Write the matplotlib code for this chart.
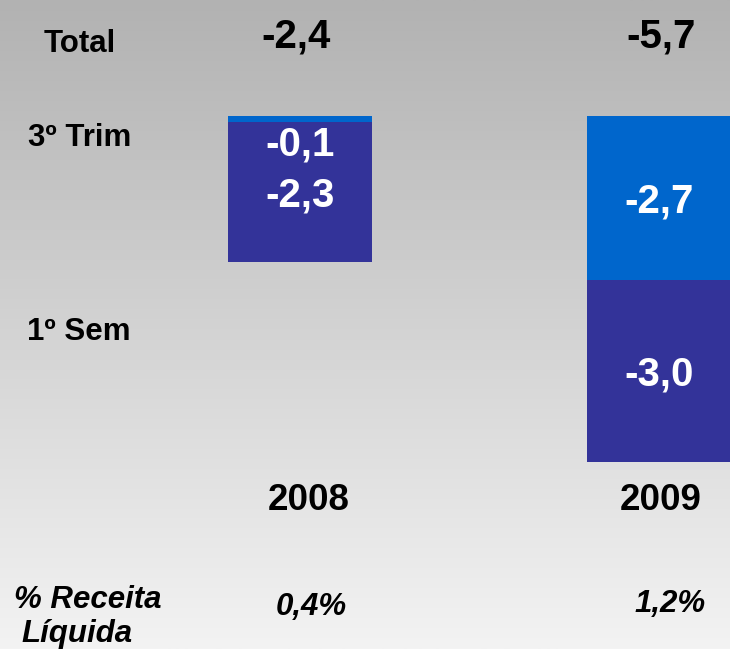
import numpy as np
import matplotlib.pyplot as plt
from matplotlib.colors import LinearSegmentedColormap
from matplotlib.transforms import blended_transform_factory

# data
years = ["2008", "2009"]
trim3 = [-0.1, -2.7]      # 3º Trim (segmento de cima)
sem1 = [-2.3, -3.0]       # 1º Sem (segmento de baixo)
totals = ["-2,4", "-5,7"]
trim3_lbl = ["-0,1", "-2,7"]
sem1_lbl = ["-2,3", "-3,0"]
pct_receita = ["0,4%", "1,2%"]

C_TRIM = "#0066CC"
C_SEM = "#333399"
FONT = "Liberation Sans"

W, H = 730, 649
fig = plt.figure(figsize=(W / 100, H / 100), dpi=100)
ax = fig.add_axes([0, 0, 1, 1])

# escala: zero a 116 px do topo, ~60.7 px por unidade
px_unit = 60.7
y_top = 116 / px_unit
y_bot = -(H - 116) / px_unit
x = np.arange(len(years))
xl = (-0.837, 1.199)
ax.set_xlim(*xl)
ax.set_ylim(y_bot, y_top)

# fundo degradê cinza
grad = np.linspace(0, 1, 256).reshape(-1, 1)
cmap = LinearSegmentedColormap.from_list("bg", ["#b2b2b2", "#f3f3f3"])
ax.imshow(grad, cmap=cmap, aspect="auto", extent=[xl[0], xl[1], y_bot, y_top],
          origin="upper", zorder=0)

ax.bar(x, trim3, width=0.40, bottom=0, color=C_TRIM, zorder=2)
ax.bar(x, sem1, width=0.40, bottom=trim3, color=C_SEM, zorder=2)
ax.axis("off")

lab = dict(fontfamily=FONT, fontweight="bold", color="white", fontsize=29,
           ha="center", va="center_baseline", zorder=3)
for i in range(len(years)):
    if abs(trim3[i]) < 0.5:
        # segmento fino: rótulo logo abaixo do topo da barra
        ax.annotate(trim3_lbl[i], (x[i], 0), xytext=(0, -18), textcoords="offset points", **lab)
    else:
        ax.text(x[i], trim3[i] / 2, trim3_lbl[i], **lab)
    ax.text(x[i], trim3[i] + sem1[i] / 2, sem1_lbl[i], **lab)

def fy(py):
    return 1 - py / H

blend = blended_transform_factory(ax.transData, fig.transFigure)
tot_dx = [-0.011, 0.007]
year_dx = [0.025, 0.007]
pct_base = [615, 612]
for i in range(len(years)):
    ax.text(x[i] + tot_dx[i], fy(48), totals[i], transform=blend, fontfamily=FONT,
            fontweight="bold", fontsize=29, ha="center", va="baseline")
    ax.text(x[i] + year_dx[i], fy(510), years[i], transform=blend, fontfamily=FONT,
            fontweight="bold", fontsize=26.5, ha="center", va="baseline")
    ax.text(x[i] + 0.031, fy(pct_base[i]), pct_receita[i], transform=blend, fontfamily=FONT,
            fontweight="bold", style="italic", fontsize=22.5, ha="center", va="baseline")

row = dict(fontfamily=FONT, fontweight="bold", fontsize=22.5, ha="center", va="baseline")
fig.text(80 / W, fy(52), "Total", **row)
fig.text(80 / W, fy(146), "3º Trim", **row)
fig.text(79 / W, fy(340), "1º Sem", **row)
fig.text(88 / W, fy(608), "% Receita", style="italic", **row)
fig.text(77 / W, fy(642), "Líquida", style="italic", **row)

fig.savefig("out.png", dpi=100)
